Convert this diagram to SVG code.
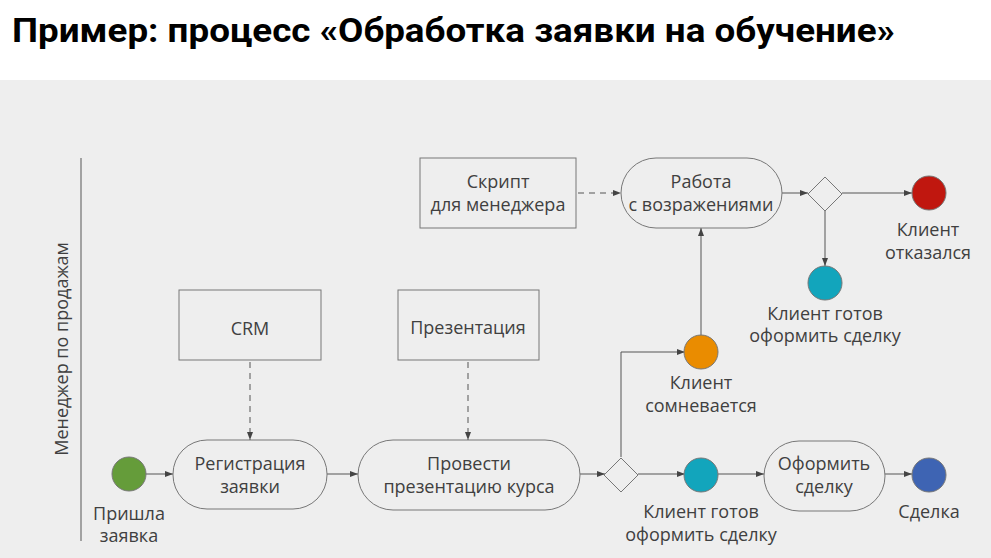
<svg xmlns="http://www.w3.org/2000/svg" width="991" height="558" viewBox="0 0 991 558">
<defs>
<marker id="ah" viewBox="0 0 8 6" refX="8" refY="3" markerWidth="8" markerHeight="6" markerUnits="userSpaceOnUse" orient="auto">
<path d="M0,0 L8,3 L0,6 Z" fill="#444"/>
</marker>
</defs>
<style>
.t{font-family:"Open Sans","Liberation Sans",sans-serif;font-size:18px;fill:#404040;text-anchor:middle}
.box{fill:none;stroke:#777;stroke-width:1}
.ev{stroke:#777;stroke-width:1}
.ln{fill:none;stroke:#555;stroke-width:1}
.dash{fill:none;stroke:#555;stroke-width:1;stroke-dasharray:6 5}
</style>
<rect x="0" y="0" width="991" height="558" fill="#ffffff"/>
<rect x="0" y="80" width="991" height="478" fill="#eeeeee"/>
<text x="12" y="42" font-family="Roboto,'Liberation Sans',sans-serif" font-weight="bold" font-size="34" fill="#000" textLength="883" lengthAdjust="spacingAndGlyphs">Пример: процесс «Обработка заявки на обучение»</text>

<g id="lane">
<line x1="81" y1="158" x2="81" y2="541" stroke="#888" stroke-width="1.5"/>
<text class="t" transform="translate(68,349) rotate(-90)" font-size="17">Менеджер по продажам</text>
</g>

<g id="connectors">
<line class="ln" x1="146" y1="474" x2="173" y2="474" marker-end="url(#ah)"/>
<line class="ln" x1="327" y1="474" x2="358" y2="474" marker-end="url(#ah)"/>
<line class="ln" x1="580" y1="474" x2="605" y2="474" marker-end="url(#ah)"/>
<line class="ln" x1="638" y1="474" x2="685" y2="474" marker-end="url(#ah)"/>
<line class="ln" x1="718" y1="474" x2="764" y2="474" marker-end="url(#ah)"/>
<line class="ln" x1="885" y1="474" x2="912" y2="474" marker-end="url(#ah)"/>
<polyline class="ln" points="621,457 621,352 685,352" marker-end="url(#ah)"/>
<line class="ln" x1="701" y1="336" x2="701" y2="228" marker-end="url(#ah)"/>
<line class="ln" x1="782" y1="193" x2="808" y2="193" marker-end="url(#ah)"/>
<line class="ln" x1="842" y1="193" x2="912" y2="193" marker-end="url(#ah)"/>
<line class="ln" x1="825" y1="210" x2="825" y2="266" marker-end="url(#ah)"/>
<line class="dash" x1="250" y1="362" x2="250" y2="440" marker-end="url(#ah)"/>
<line class="dash" x1="468" y1="362" x2="468" y2="440" marker-end="url(#ah)"/>
<line class="dash" x1="578" y1="193" x2="621" y2="193" marker-end="url(#ah)"/>
</g>

<g id="start">
<circle class="ev" cx="129" cy="474" r="17" fill="#659c3a"/>
<text class="t" x="129" y="520">Пришла</text>
<text class="t" x="129" y="542">заявка</text>
</g>

<g id="registration">
<rect class="box" x="173" y="440" width="154" height="69" rx="34"/>
<text class="t" x="250" y="470">Регистрация</text>
<text class="t" x="250" y="493">заявки</text>
</g>

<g id="crm">
<rect class="box" x="179" y="290" width="142" height="70"/>
<text class="t" x="250" y="335">CRM</text>
</g>

<g id="presentation">
<rect class="box" x="398" y="290" width="141" height="70"/>
<text class="t" x="468" y="334">Презентация</text>
</g>

<g id="conduct">
<rect class="box" x="358" y="440" width="222" height="70" rx="35"/>
<text class="t" x="469" y="470">Провести</text>
<text class="t" x="469" y="493">презентацию курса</text>
</g>

<g id="gateway1">
<polygon class="box" points="621,458 638,475 621,492 604,475" fill="#eeeeee"/>
</g>

<g id="doubt">
<circle class="ev" cx="701" cy="352" r="17" fill="#ea8c00"/>
<text class="t" x="701" y="389">Клиент</text>
<text class="t" x="701" y="412">сомневается</text>
</g>

<g id="ready1">
<circle class="ev" cx="701" cy="475" r="17" fill="#12a5bc"/>
<text class="t" x="701" y="518">Клиент готов</text>
<text class="t" x="701" y="541">оформить сделку</text>
</g>

<g id="make-deal">
<rect class="box" x="764" y="441" width="121" height="70" rx="35"/>
<text class="t" x="824" y="470">Оформить</text>
<text class="t" x="824" y="493">сделку</text>
</g>

<g id="deal">
<circle class="ev" cx="929" cy="475" r="17" fill="#3e64b3"/>
<text class="t" x="929" y="518">Сделка</text>
</g>

<g id="script">
<rect class="box" x="420" y="158" width="156" height="70"/>
<text class="t" x="498" y="188">Скрипт</text>
<text class="t" x="498" y="211">для менеджера</text>
</g>

<g id="objections">
<rect class="box" x="621" y="158" width="161" height="70" rx="35"/>
<text class="t" x="701" y="188">Работа</text>
<text class="t" x="701" y="211">с возражениями</text>
</g>

<g id="gateway2">
<polygon class="box" points="825,177 842,194 825,211 808,194" fill="#eeeeee"/>
</g>

<g id="refused">
<circle class="ev" cx="929" cy="193" r="17" fill="#c0170f"/>
<text class="t" x="928" y="236">Клиент</text>
<text class="t" x="928" y="259">отказался</text>
</g>

<g id="ready2">
<circle class="ev" cx="825" cy="283" r="17" fill="#12a5bc"/>
<text class="t" x="825" y="320">Клиент готов</text>
<text class="t" x="825" y="342">оформить сделку</text>
</g>
</svg>
